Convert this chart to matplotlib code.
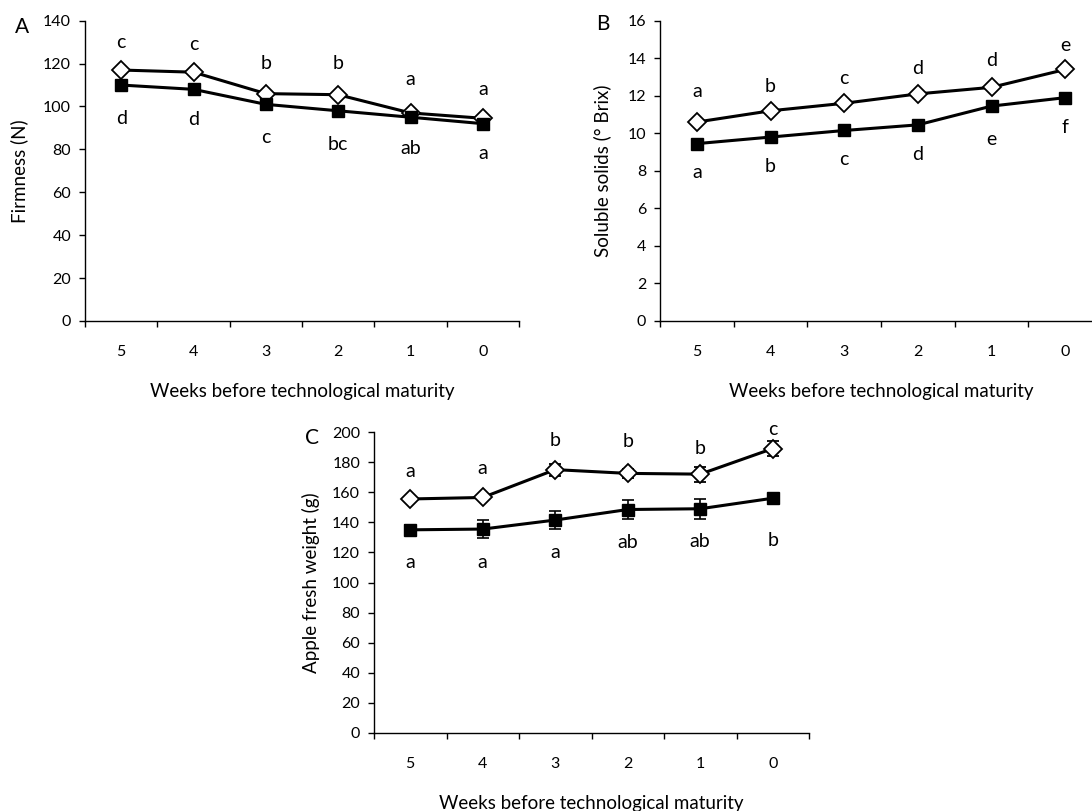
import numpy as np
import matplotlib
matplotlib.use("Agg")
import matplotlib.pyplot as plt

plt.rcParams["font.family"] = ["Lato", "DejaVu Sans"]

weeks = ["5", "4", "3", "2", "1", "0"]

# A: firmness (N)
firm_open = [117, 116, 106, 105.5, 97, 94.5]
firm_filled = [110, 108, 101, 98, 95, 92]
firm_open_letters = ["c", "c", "b", "b", "a", "a"]
firm_open_letter_y = [130, 129, 120, 120, 112.5, 108]
firm_filled_letters = ["d", "d", "c", "bc", "ab", "a"]
firm_filled_letter_y = [94.5, 94, 85.5, 82.5, 80.5, 78]

# B: soluble solids (deg Brix)
brix_open = [10.6, 11.2, 11.6, 12.1, 12.45, 13.4]
brix_filled = [9.45, 9.8, 10.15, 10.45, 11.45, 11.9]
brix_open_letters = ["a", "b", "c", "d", "d", "e"]
brix_open_letter_y = [12.25, 12.5, 12.9, 13.45, 13.9, 14.7]
brix_filled_letters = ["a", "b", "c", "d", "e", "f"]
brix_filled_letter_y = [7.9, 8.25, 8.6, 8.85, 9.65, 10.3]

# C: apple fresh weight (g)
weight_open = [155.5, 156.5, 175, 172.5, 172, 189]
weight_open_err = [2, 2, 4, 3, 5, 5]
weight_filled = [135, 135.5, 141.5, 148.5, 149, 156]
weight_filled_err = [3, 6, 6, 6.5, 6.5, 3]
weight_open_letters = ["a", "a", "b", "b", "b", "c"]
weight_open_letter_y = [173.5, 175.5, 194.5, 193.5, 189, 201.5]
weight_filled_letters = ["a", "a", "a", "ab", "ab", "b"]
weight_filled_letter_y = [113.5, 113.5, 120, 126.5, 127, 128]

W, H = 1092, 811
fig = plt.figure(figsize=(W / 100, H / 100), dpi=100)


def px_axes(left, top, right, bottom):
    return fig.add_axes([left / W, 1 - bottom / H, (right - left) / W, (bottom - top) / H])


def style_panel(ax, ymax, ystep, ylabel, ylabel_x, letter, letter_xy):
    x = np.arange(len(weeks))
    ax.set_xlim(-0.5, len(weeks) - 0.5)
    ax.set_ylim(0, ymax)
    ax.set_yticks(np.arange(0, ymax + ystep / 2, ystep))
    ax.set_xticks(x)
    ax.set_xticklabels(weeks)
    ax.set_xticks(np.arange(-0.5, len(weeks)), minor=True)
    ax.tick_params(axis="x", which="major", length=0, pad=17, labelsize=11.5)
    ax.tick_params(axis="x", which="minor", length=4, width=1, direction="out")
    ax.tick_params(axis="y", length=4, width=1, direction="out", pad=6, labelsize=11.5)
    for s in ["top", "right"]:
        ax.spines[s].set_visible(False)
    for s in ["left", "bottom"]:
        ax.spines[s].set_linewidth(1.0)
    ax.set_ylabel(ylabel, fontsize=13.5)
    ax.yaxis.set_label_coords(ylabel_x, 0.5)
    ax.set_xlabel("Weeks before technological maturity", fontsize=13.5)
    ax.xaxis.set_label_coords(0.5, -0.205)
    fig.text(letter_xy[0] / W, 1 - letter_xy[1] / H, letter, fontsize=15,
             ha="center", va="center")


def draw_series(ax, open_vals, filled_vals, open_err=None, filled_err=None):
    x = np.arange(len(weeks))
    ax.errorbar(x, open_vals, yerr=open_err, color="black", lw=2.2, marker="D",
                ms=9, mfc="white", mec="black", mew=1.3, capsize=4, elinewidth=1.2,
                capthick=1.2, clip_on=False, zorder=3)
    ax.errorbar(x, filled_vals, yerr=filled_err, color="black", lw=2.2, marker="s",
                ms=9, mfc="black", mec="black", capsize=4, elinewidth=1.2,
                capthick=1.2, clip_on=False, zorder=4)


def draw_letters(ax, letters, ys):
    for i, (t, y) in enumerate(zip(letters, ys)):
        ax.text(i, y, t, ha="center", va="center", fontsize=14, clip_on=False)


axA = px_axes(85, 20.7, 519, 321)
draw_series(axA, firm_open, firm_filled)
draw_letters(axA, firm_open_letters, firm_open_letter_y)
draw_letters(axA, firm_filled_letters, firm_filled_letter_y)
style_panel(axA, 140, 20, "Firmness (N)", -0.13, "A", (22, 27))

axB = px_axes(660, 20.7, 1102, 321)
draw_series(axB, brix_open, brix_filled)
draw_letters(axB, brix_open_letters, brix_open_letter_y)
draw_letters(axB, brix_filled_letters, brix_filled_letter_y)
style_panel(axB, 16, 2, "Soluble solids (° Brix)", -0.11, "B", (603, 24))

axC = px_axes(374, 432, 809, 733)
draw_series(axC, weight_open, weight_filled, weight_open_err, weight_filled_err)
draw_letters(axC, weight_open_letters, weight_open_letter_y)
draw_letters(axC, weight_filled_letters, weight_filled_letter_y)
style_panel(axC, 200, 20, "Apple fresh weight (g)", -0.125, "C", (312, 438))

fig.savefig("out.png", dpi=100)
